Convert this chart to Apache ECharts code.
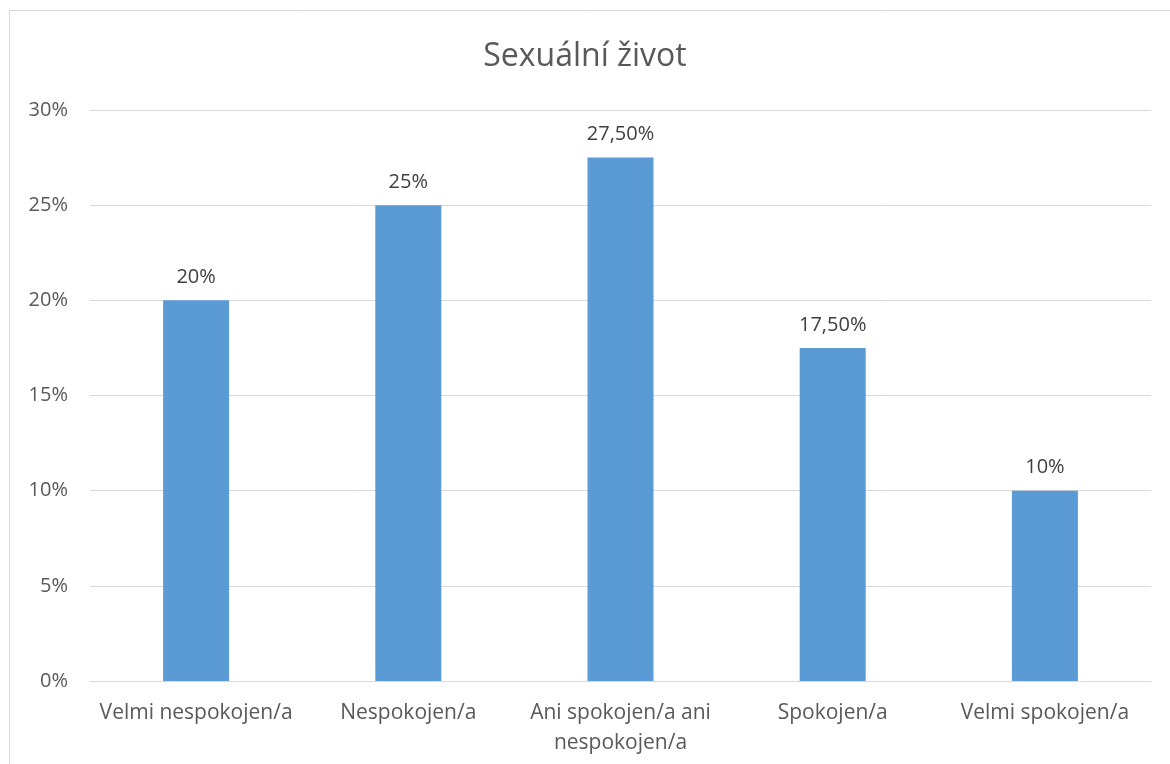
<!DOCTYPE html>
<html>
<head>
<meta charset="utf-8">
<script src="https://cdn.jsdelivr.net/npm/echarts@6/dist/echarts.min.js"></script>
<style>
  html, body { margin: 0; padding: 0; background: #fff; }
  #chart { width: 1170px; height: 764px; }
</style>
</head>
<body>
<div id="chart"></div>
<script>
const categories = ['Velmi nespokojen/a', 'Nespokojen/a', 'Ani spokojen/a ani\nnespokojen/a', 'Spokojen/a', 'Velmi spokojen/a'];
const values = [20, 25, 27.5, 17.5, 10];
const valueLabels = ['20%', '25%', '27,50%', '17,50%', '10%'];

const chart = echarts.init(document.getElementById('chart'));
chart.setOption({
  backgroundColor: '#fff',
  textStyle: { fontFamily: 'Open Sans' },
  graphic: [{
    type: 'rect',
    shape: { x: 9.5, y: 10.5, width: 1180, height: 780 },
    style: { fill: 'none', stroke: '#D9D9D9', lineWidth: 1 },
    silent: true
  }],
  title: {
    text: 'Sexuální život',
    left: 'center',
    top: 36,
    textStyle: { fontFamily: 'Open Sans', fontSize: 32, fontWeight: 'normal', color: '#595959' }
  },
  grid: { left: 90, right: 19, top: 110, bottom: 83 },
  xAxis: {
    type: 'category',
    data: categories,
    axisLine: { lineStyle: { color: '#D9D9D9', width: 1 } },
    axisTick: { show: false },
    axisLabel: { color: '#595959', fontSize: 21, margin: 17, lineHeight: 30, interval: 0 }
  },
  yAxis: {
    type: 'value',
    min: 0,
    max: 30,
    interval: 5,
    axisLine: { show: false },
    axisTick: { show: false },
    axisLabel: { color: '#595959', fontSize: 20, margin: 22, formatter: '{value}%' },
    splitLine: { lineStyle: { color: '#D9D9D9', width: 1 } }
  },
  series: [{
    type: 'bar',
    data: values,
    barWidth: 66,
    itemStyle: { color: '#5B9BD5' },
    label: {
      show: true,
      position: 'top',
      distance: 13,
      fontSize: 20,
      color: '#404040',
      formatter: p => valueLabels[p.dataIndex]
    }
  }]
});
</script>
</body>
</html>
